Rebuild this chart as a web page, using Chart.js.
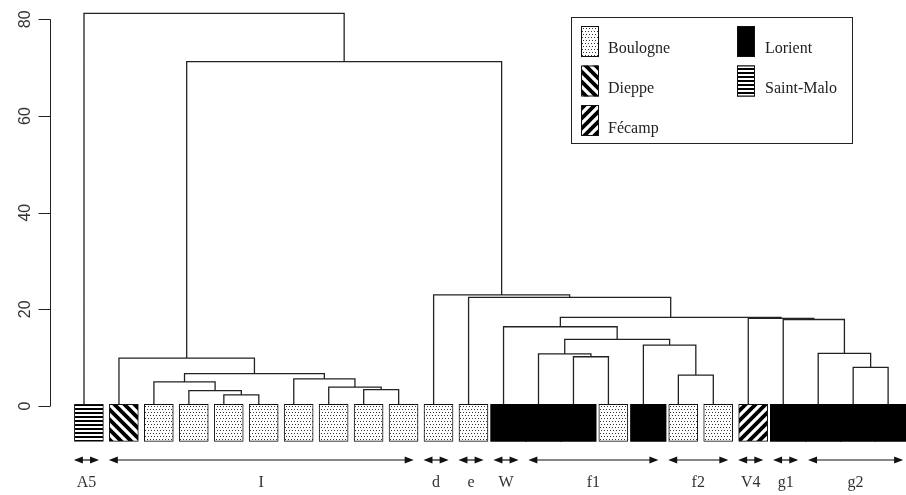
<!DOCTYPE html>
<html>
<head>
<meta charset="utf-8">
<title>Dendrogramme des échantillons</title>
<script src="https://cdn.jsdelivr.net/npm/chart.js@4.4.0/dist/chart.umd.min.js"></script>
<style>
    body { margin: 0; background: #fff; }
    #wrap { width: 906px; height: 495px; }
</style>
</head>
<body>
<div id="wrap"><canvas id="dendroChart" width="906" height="495"></canvas></div>
<script>
const cities = ['Boulogne', 'Dieppe', 'Fécamp', 'Lorient', 'Saint-Malo'];

// one entry per leaf, left to right
const leafCity = [
    'Saint-Malo', 'Dieppe',
    'Boulogne', 'Boulogne', 'Boulogne', 'Boulogne', 'Boulogne', 'Boulogne', 'Boulogne', 'Boulogne',
    'Boulogne', 'Boulogne',
    'Lorient', 'Lorient', 'Lorient', 'Boulogne', 'Lorient',
    'Boulogne', 'Boulogne',
    'Fécamp', 'Lorient', 'Lorient', 'Lorient', 'Lorient'
];

// hclust style merges: negative = leaf number (1-based), positive = earlier merge step
const mergeLeft   = [-5, -4, -3, -9, -8, -7, 3, -2, -15, -14, -18, -17, 10, -13, -23, -22, -21, -20, 14, -12, -11, 8, -1];
const mergeRight  = [-6, 1, 2, -10, 4, 5, 6, 7, -16, 9, -19, 11, 12, 13, -24, 15, 16, 17, 18, 19, 20, 21, 22];
const mergeHeight = [2.3, 3.2, 5.0, 3.4, 3.9, 5.6, 6.7, 9.9, 10.2, 10.8, 6.4, 12.6, 13.8, 16.4, 8.0, 10.9, 17.9, 18.15, 18.35, 22.5, 23.0, 71.25, 81.25];

const groupLabels = ['A5', 'I', 'd', 'e', 'W', 'f1', 'f2', 'V4', 'g1', 'g2'];
const groupFirst  = [0, 1, 10, 11, 12, 13, 17, 19, 20, 21];
const groupLast   = [0, 9, 10, 11, 12, 16, 18, 19, 20, 23];

const yTicks = [0, 20, 40, 60, 80];

const serifFont = '"Liberation Serif", "Times New Roman", serif';
const sansFont = '"Liberation Sans", Arial, sans-serif';


function makePattern(city) {
    const c = document.createElement('canvas');
    let g;
    if (city === 'Boulogne') {
        c.width = 3; c.height = 6;
        g = c.getContext('2d');
        g.fillStyle = '#fff';
        g.fillRect(0, 0, 3, 6);
        g.fillStyle = '#333';
        g.fillRect(0, 1, 1, 1);
        g.fillRect(1, 4, 1, 1);
    } else if (city === 'Dieppe' || city === 'Fécamp') {
        c.width = 10; c.height = 10;
        g = c.getContext('2d');
        g.fillStyle = '#fff';
        g.fillRect(0, 0, 10, 10);
        g.strokeStyle = '#000';
        g.lineWidth = 3.8;
        g.beginPath();
        for (let k = -1; k <= 1; k++) {
            if (city === 'Dieppe') {
                g.moveTo(k * 10 - 2, -2);
                g.lineTo(k * 10 + 12, 12);
            } else {
                g.moveTo(k * 10 - 2, 12);
                g.lineTo(k * 10 + 12, -2);
            }
        }
        g.stroke();
    } else if (city === 'Saint-Malo') {
        c.width = 4; c.height = 4;
        g = c.getContext('2d');
        g.fillStyle = '#fff';
        g.fillRect(0, 0, 4, 4);
        g.fillStyle = '#000';
        g.fillRect(0, 0, 4, 2);
    } else {
        return '#000';
    }
    return g.createPattern(c, 'repeat');
}


function buildTreeLines() {
    const nodeX = [];
    const points = [];
    const child = (c) => c < 0 ? { x: -c - 1, h: 0 } : { x: nodeX[c - 1], h: mergeHeight[c - 1] };
    for (let i = 0; i < mergeHeight.length; i++) {
        const l = child(mergeLeft[i]);
        const r = child(mergeRight[i]);
        const h = mergeHeight[i];
        nodeX.push((l.x + r.x) / 2);
        points.push({ x: l.x, y: l.h }, { x: l.x, y: h }, { x: r.x, y: h }, { x: r.x, y: r.h }, { x: r.x, y: null });
    }
    return points;
}


function buildLeafDatasets() {
    const shift = 0.14;
    return cities.map((city) => {
        const solid = city === 'Lorient';
        const data = [];
        for (let i = 0; i < leafCity.length; i++) {
            if (leafCity[i] === city) data.push({ x: i + shift, y: [-7.3, 0.35] });
        }
        return {
            type: 'bar',
            label: city,
            data: data,
            backgroundColor: makePattern(city),
            borderColor: solid ? '#000' : '#111',
            borderWidth: solid ? 0 : 1,
            borderSkipped: false,
            grouped: false,
            barThickness: solid ? 35.6 : 29,
            clip: false
        };
    });
}


function drawArrow(ctx, x1, x2, y) {
    const head = 9, half = 3.5;
    ctx.beginPath();
    ctx.moveTo(x1 + head - 1, y);
    ctx.lineTo(x2 - head + 1, y);
    ctx.stroke();
    ctx.beginPath();
    ctx.moveTo(x1, y);
    ctx.lineTo(x1 + head, y - half);
    ctx.lineTo(x1 + head, y + half);
    ctx.closePath();
    ctx.moveTo(x2, y);
    ctx.lineTo(x2 - head, y - half);
    ctx.lineTo(x2 - head, y + half);
    ctx.closePath();
    ctx.fill();
}


const extrasPlugin = {
    id: 'extras',
    afterDraw(chart) {
        const ctx = chart.ctx;
        const xs = chart.scales.x;
        const ys = chart.scales.y;
        const axisX = Math.round(chart.chartArea.left) + 0.5;
        ctx.save();

        // y axis, R style
        ctx.strokeStyle = '#222';
        ctx.lineWidth = 1;
        ctx.beginPath();
        ctx.moveTo(axisX, ys.getPixelForValue(yTicks[0]));
        ctx.lineTo(axisX, ys.getPixelForValue(yTicks[yTicks.length - 1]));
        yTicks.forEach((t) => {
            const py = Math.round(ys.getPixelForValue(t)) + 0.5;
            ctx.moveTo(axisX - 12, py);
            ctx.lineTo(axisX, py);
        });
        ctx.stroke();
        ctx.fillStyle = '#333';
        ctx.font = `16px ${sansFont}`;
        ctx.textAlign = 'center';
        ctx.textBaseline = 'middle';
        yTicks.forEach((t) => {
            ctx.save();
            ctx.translate(26, ys.getPixelForValue(t));
            ctx.rotate(-Math.PI / 2);
            ctx.fillText(String(t), 0, 0);
            ctx.restore();
        });

        // group arrows and labels
        ctx.strokeStyle = '#111';
        ctx.fillStyle = '#111';
        ctx.lineWidth = 1.2;
        ctx.font = `16px ${serifFont}`;
        ctx.textBaseline = 'alphabetic';
        groupLabels.forEach((label, i) => {
            const x1 = xs.getPixelForValue(groupFirst[i] - 0.29);
            const x2 = xs.getPixelForValue(groupLast[i] + 0.43);
            drawArrow(ctx, x1, x2, 460);
            ctx.fillStyle = '#333';
            ctx.fillText(label, (x1 + x2) / 2, 487);
            ctx.fillStyle = '#111';
        });

        // legend box
        ctx.strokeStyle = '#222';
        ctx.lineWidth = 1;
        ctx.strokeRect(571.5, 17.5, 281, 126);
        ctx.textAlign = 'left';
        const leafSets = chart.data.datasets.filter((d) => d.type === 'bar');
        leafSets.forEach((ds, i) => {
            const col = Math.floor(i / 3);
            const row = i % 3;
            const sx = col === 0 ? 581 : 737;
            const sy = 26 + row * 39.5;
            ctx.fillStyle = ds.backgroundColor;
            ctx.fillRect(sx, sy, 18, 31);
            ctx.strokeStyle = '#111';
            ctx.strokeRect(sx + 0.5, sy + 0.5, 17, 30);
            ctx.fillStyle = '#222';
            ctx.fillText(ds.label, col === 0 ? 608 : 765, 53 + row * 40);
        });
        ctx.restore();
    }
};


function renderChart() {
    const ctx = document.getElementById('dendroChart').getContext('2d');
    const datasets = buildLeafDatasets();
    datasets.push({
        type: 'line',
        label: 'tree',
        data: buildTreeLines(),
        borderColor: '#222',
        borderWidth: 1.3,
        pointRadius: 0,
        tension: 0,
        fill: false,
        spanGaps: false
    });
    new Chart(ctx, {
        type: 'bar',
        data: { datasets: datasets },
        options: {
            responsive: false,
            animation: false,
            devicePixelRatio: 1,
            layout: { padding: { left: 50, right: 6, top: 9.7, bottom: 50.3 } },
            scales: {
                x: { type: 'linear', min: -0.9725, max: 23.34, offset: false, display: false },
                y: { type: 'linear', min: -8, max: 82, display: false }
            },
            plugins: {
                legend: { display: false },
                tooltip: { enabled: false }
            }
        },
        plugins: [extrasPlugin]
    });
}

renderChart();
</script>
</body>
</html>
